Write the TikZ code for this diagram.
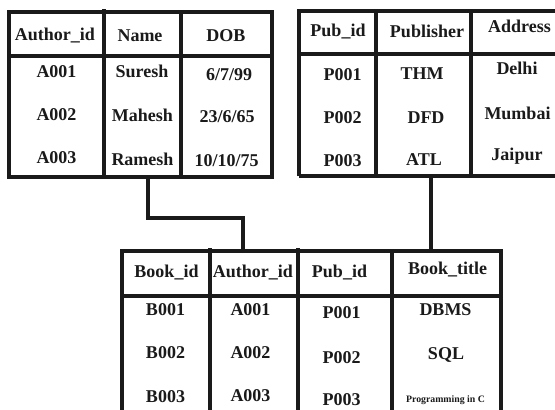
\documentclass[tikz,border=0pt]{standalone}
\usepackage{fontspec}
\setmainfont{Liberation Serif}
\definecolor{ink}{HTML}{1A1A1A}
\begin{document}
\begin{tikzpicture}[x=1pt,y=-1pt,
  rule/.style={line width=3.1pt, draw=ink},
  link/.style={line width=3.8pt, draw=ink},
  cell/.style={anchor=base, inner sep=0pt, text=ink,
    font=\bfseries\fontsize{18}{21}\selectfont},
  smallcell/.style={cell, font=\bfseries\fontsize{9.8}{11}\selectfont}]
\useasboundingbox[fill=white] (0,0) rectangle (555,410);
\begin{scope}
\clip (0,0) rectangle (555,410);

% ---- Author table
\draw[rule] (9,12) rectangle (272,177);
\draw[rule] (9,56) -- (272,56);
\draw[rule] (104,9) -- (104,177);
\draw[rule] (181,12) -- (181,177);

\node[cell] (ahid)  at (55,40)   {Author\_id};
\node[cell] (ahnm)  at (140,41)  {Name};
\node[cell] (ahdob) at (226,41)  {DOB};
\node[cell] (a1id)  at (56.5,77) {A001};
\node[cell] (a1nm)  at (142,77)  {Suresh};
\node[cell] (a1dob) at (229,80)  {6/7/99};
\node[cell] (a2id)  at (56.5,120){A002};
\node[cell] (a2nm)  at (142.5,121){Mahesh};
\node[cell] (a2dob) at (227,122) {23/6/65};
\node[cell] (a3id)  at (56.5,163){A003};
\node[cell] (a3nm)  at (142.5,165){Ramesh};
\node[cell] (a3dob) at (226.5,166){10/10/75};

% ---- Publisher table
\draw[rule] (299,176) -- (299,11) -- (558,11);
\draw[rule] (299,176) -- (558,176);
\draw[rule] (299,54) -- (558,54);
\draw[rule] (376,9) -- (376,176);
\draw[rule] (471,9) -- (471,176);

\node[cell] (phid)  at (338,36)   {Pub\_id};
\node[cell] (phpub) at (427,37)   {Publisher};
\node[cell] (phadr) at (519.5,32) {Address};
\node[cell] (p1id)  at (342.5,80) {P001};
\node[cell] (p1pub) at (422,79)   {THM};
\node[cell] (p1adr) at (517,74)   {Delhi};
\node[cell] (p2id)  at (342.5,123){P002};
\node[cell] (p2pub) at (426,123)  {DFD};
\node[cell] (p2adr) at (517.5,119){Mumbai};
\node[cell] (p3id)  at (342.5,166){P003};
\node[cell] (p3pub) at (424,165)  {ATL};
\node[cell] (p3adr) at (517,160)  {Jaipur};

% ---- Book table
\draw[rule] (122,415) -- (122,251) -- (501,251) -- (501,415);
\draw[rule] (122,296) -- (501,296);
\draw[rule] (210,248) -- (210,415);
\draw[rule] (298,248) -- (298,415);
\draw[rule] (392,251) -- (392,415);

\node[cell] (bhid)  at (166.5,277) {Book\_id};
\node[cell] (bhaid) at (253,277)   {Author\_id};
\node[cell] (bhpid) at (339.5,277) {Pub\_id};
\node[cell] (bhttl) at (447.5,274) {Book\_title};
\node[cell] (b1id)  at (165.5,315) {B001};
\node[cell] (b1aid) at (250.5,315) {A001};
\node[cell] (b1pid) at (341.5,318) {P001};
\node[cell] (b1ttl) at (445.5,315) {DBMS};
\node[cell] (b2id)  at (165.5,358) {B002};
\node[cell] (b2aid) at (250.5,358) {A002};
\node[cell] (b2pid) at (341.5,363) {P002};
\node[cell] (b2ttl) at (446,359)   {SQL};
\node[cell] (b3id)  at (165.5,402) {B003};
\node[cell] (b3aid) at (250.5,401) {A003};
\node[cell] (b3pid) at (341.5,405) {P003};
\node[smallcell] (b3ttl) at (445.5,402) {Programming in C};

% ---- Foreign-key links
\coordinate (authorFoot) at (148,177);
\coordinate (authorJog)  at (195,218);
\coordinate (bookAuthor) at (243,251);
\coordinate (pubFoot)    at (431,176);
\coordinate (bookPub)    at (431,251);
\draw[link] (authorFoot) |- (authorJog) -| (bookAuthor);
\draw[link] (pubFoot) -- (bookPub);
\end{scope}
\end{tikzpicture}
\end{document}
